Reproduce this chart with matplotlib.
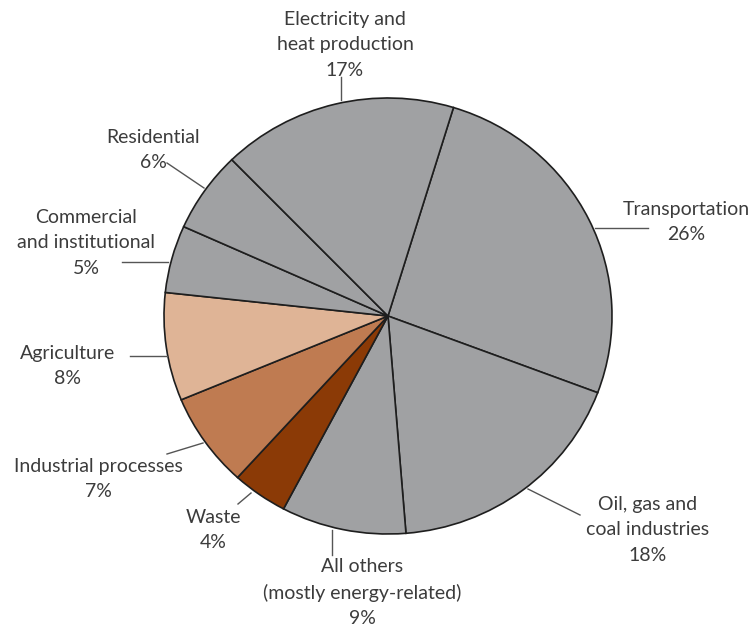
import matplotlib
matplotlib.use("Agg")
import matplotlib.pyplot as plt

# share of emissions by sector, clockwise from the top right
sectors = ["Transportation", "Oil, gas and\ncoal industries", "All others\n(mostly energy-related)",
           "Waste", "Industrial processes", "Agriculture", "Commercial\nand institutional",
           "Residential", "Electricity and\nheat production"]
shares = [26, 18, 9, 4, 7, 8, 5, 6, 17]
colors = ["#a0a1a3", "#a0a1a3", "#a0a1a3", "#8b3a06", "#bf7b51",
          "#dfb496", "#a0a1a3", "#a0a1a3", "#a0a1a3"]

# label layout in pixel coords: text anchor (x, y top) and leader line endpoints
label_xy = [(686, 201), (648, 496), (362, 558), (213, 509), (98, 458),
            (68, 345), (86, 209), (153, 129), (345, 11)]
leaders = [((595, 228), (648, 228)), ((528, 489), (580, 515)), ((332, 530), (332, 555)),
           ((238, 504), (251, 493)), ((167, 454), (203, 443)), ((130, 356), (167, 356)),
           ((122, 262), (168, 262)), ((167, 163), (204, 188)), ((341, 77), (341, 100))]

W, H = 753, 630
fig = plt.figure(figsize=(W / 100, H / 100), dpi=100)

cx, cy, rx, ry = 388, 316, 224, 218
pax = fig.add_axes([(cx - rx) / W, (H - cy - ry) / H, 2 * rx / W, 2 * ry / H])
pax.pie(shares, colors=colors, startangle=73, counterclock=False,
        wedgeprops=dict(edgecolor="#1e1e1e", linewidth=1.2))
pax.set_aspect("auto")
pax.set_xlim(-1, 1)
pax.set_ylim(-1, 1)

ax = fig.add_axes([0, 0, 1, 1])
ax.set_xlim(0, W)
ax.set_ylim(H, 0)
ax.axis("off")
ax.patch.set_alpha(0)

for name, pct, (tx, ty), (p0, p1) in zip(sectors, shares, label_xy, leaders):
    ax.plot([p0[0], p1[0]], [p0[1], p1[1]], color="#555555", lw=1.0)
    ax.text(tx, ty, f"{name}\n{pct}%", ha="center", va="top", fontsize=14,
            family="Lato", color="#3c3c3c", linespacing=1.6)

fig.savefig("out.png", dpi=100, facecolor="white")
